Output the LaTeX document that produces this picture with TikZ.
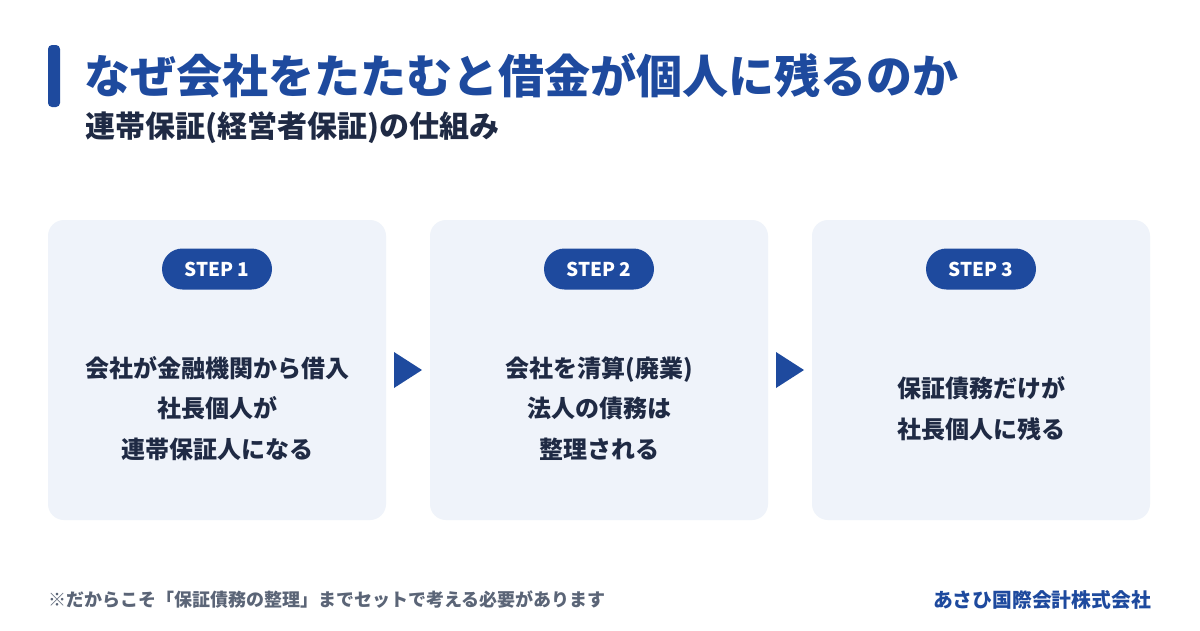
\documentclass[tikz,border=0pt]{standalone}
\usepackage{fontspec}
\setmainfont{Noto Sans CJK JP}
\definecolor{brand}{HTML}{1E4A9E}
\definecolor{cardbg}{HTML}{EFF3FA}
\definecolor{ink}{HTML}{1F2A44}
\definecolor{muted}{HTML}{5B6577}
\tikzset{
  card/.style={fill=cardbg, rounded corners=16pt, minimum width=338pt, minimum height=300pt, inner sep=0pt},
  badge/.style={fill=brand, rounded corners=20.5pt, minimum width=110pt, minimum height=41pt, inner sep=0pt, text=white, font=\fontsize{19}{19}\selectfont\bfseries},
  cardtext/.style={align=center, text=ink, font=\fontsize{24}{40.5}\selectfont\bfseries},
  flowarrow/.style={fill=brand, draw=none}
}
\begin{document}
\begin{tikzpicture}[x=1pt,y=-1pt]
\useasboundingbox[fill=white] (0,0) rectangle (1200,630);
% header
\fill[brand, rounded corners=4pt] (48,45) rectangle (60,107);
\node[anchor=west, text=brand, font=\fontsize{46}{46}\selectfont\bfseries, inner sep=0pt] (title) at (84,76) {なぜ会社をたたむと借金が個人に残るのか};
\node[anchor=west, text=ink, font=\fontsize{30}{30}\selectfont\bfseries, inner sep=0pt] (subtitle) at (85,128) {連帯保証(経営者保証)の仕組み};
% cards
\node[card] (c1) at (217,370) {};
\node[card] (c2) at (599,370) {};
\node[card] (c3) at (981,370) {};
\node[badge] (b1) at (217,269) {STEP 1};
\node[badge] (b2) at (599,269) {STEP 2};
\node[badge] (b3) at (981,269) {STEP 3};
\node[cardtext] (t1) at (217,408.5) {会社が金融機関から借入\\社長個人が\\連帯保証人になる};
\node[cardtext] (t2) at (599,408.5) {会社を清算(廃業)\\法人の債務は\\整理される};
\node[cardtext] (t3) at (981,408.5) {保証債務だけが\\社長個人に残る};
% arrows
\fill[flowarrow] (394,352) -- (422,370) -- (394,388) -- cycle;
\fill[flowarrow] (776,352) -- (804,370) -- (776,388) -- cycle;
% footer
\node[anchor=west, text=muted, font=\fontsize{18}{18}\selectfont\bfseries, inner sep=0pt] (note) at (48,600) {※だからこそ「保証債務の整理」までセットで考える必要があります};
\node[anchor=east, text=brand, font=\fontsize{19.8}{19.8}\selectfont\bfseries, inner sep=0pt] (org) at (1151,600) {あさひ国際会計株式会社};
\end{tikzpicture}
\end{document}
